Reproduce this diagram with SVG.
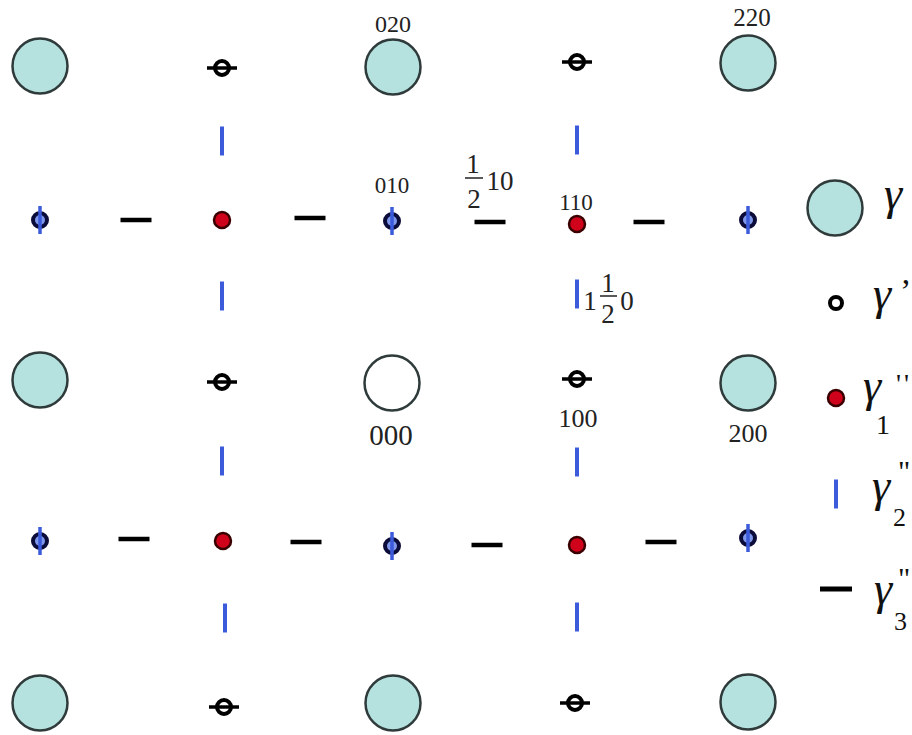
<svg xmlns="http://www.w3.org/2000/svg" xmlns:xlink="http://www.w3.org/1999/xlink" width="912" height="735" viewBox="0 0 912 735">
<style>
.lbl{font-family:"Liberation Serif","Times New Roman",serif;fill:#222;text-anchor:middle}
.gam{font-family:"Liberation Serif","Times New Roman",serif;font-style:italic;fill:#111}
.sub{font-family:"Liberation Serif","Times New Roman",serif;fill:#111}
</style>
<defs>
<g id="big"><circle r="27.5" fill="#b5e1df" stroke="#2f3a3a" stroke-width="2.5"/></g>
<g id="gp"><circle r="7" fill="none" stroke="#000" stroke-width="4"/><line x1="-15" y1="0" x2="15" y2="0" stroke="#000" stroke-width="3.5"/></g>
<g id="gpb"><circle r="7" fill="#7f98ea" stroke="#0c0c3a" stroke-width="4"/><line x1="0" y1="-14" x2="0" y2="14" stroke="#3b5bdb" stroke-width="3.5"/></g>
<g id="red"><circle r="8" fill="#d0021b" stroke="#3a0000" stroke-width="2.5"/></g>
<g id="vd"><line x1="0" y1="-14.5" x2="0" y2="14.5" stroke="#3b5bdb" stroke-width="4"/></g>
<g id="hd"><line x1="-15.5" y1="0" x2="15.5" y2="0" stroke="#000" stroke-width="4.5"/></g>
</defs>
<rect width="912" height="735" fill="#fff"/>
<g id="connectors"></g>
<g id="spots">
<g id="row1">
<use xlink:href="#big" x="40" y="66"/>
<use xlink:href="#gp" x="222" y="68"/>
<use xlink:href="#big" x="393" y="67"/>
<use xlink:href="#gp" x="577" y="62"/>
<use xlink:href="#big" x="748" y="63"/>
</g>
<g id="vrow1">
<use xlink:href="#vd" x="222" y="141"/>
<use xlink:href="#vd" x="577" y="140"/>
</g>
<g id="row2">
<use xlink:href="#gpb" x="40" y="220"/>
<use xlink:href="#hd" x="136" y="220"/>
<use xlink:href="#red" x="222" y="220"/>
<use xlink:href="#hd" x="310" y="218"/>
<use xlink:href="#gpb" x="392" y="221"/>
<use xlink:href="#hd" x="490" y="222"/>
<use xlink:href="#red" x="577" y="224"/>
<use xlink:href="#hd" x="649" y="222"/>
<use xlink:href="#gpb" x="748" y="220"/>
</g>
<g id="vrow2">
<use xlink:href="#vd" x="222" y="296"/>
<use xlink:href="#vd" x="577" y="294"/>
</g>
<g id="row3">
<use xlink:href="#big" x="40" y="380"/>
<use xlink:href="#gp" x="222" y="382"/>
<circle cx="392" cy="383" r="27.5" fill="#fff" stroke="#2f3a3a" stroke-width="2.5"/>
<use xlink:href="#gp" x="577" y="379"/>
<use xlink:href="#big" x="748" y="383"/>
</g>
<g id="vrow3">
<use xlink:href="#vd" x="222" y="461"/>
<use xlink:href="#vd" x="577" y="462"/>
</g>
<g id="row4">
<use xlink:href="#gpb" x="40" y="541"/>
<use xlink:href="#hd" x="134" y="539"/>
<use xlink:href="#red" x="223" y="541"/>
<use xlink:href="#hd" x="306" y="542"/>
<use xlink:href="#gpb" x="392" y="546"/>
<use xlink:href="#hd" x="487" y="545"/>
<use xlink:href="#red" x="577" y="545"/>
<use xlink:href="#hd" x="661" y="542"/>
<use xlink:href="#gpb" x="748" y="538"/>
</g>
<g id="vrow4">
<use xlink:href="#vd" x="225" y="618"/>
<use xlink:href="#vd" x="577" y="617"/>
</g>
<g id="row5">
<use xlink:href="#big" x="40" y="703"/>
<use xlink:href="#gp" x="224" y="707"/>
<use xlink:href="#big" x="393" y="703"/>
<use xlink:href="#gp" x="575" y="703"/>
<use xlink:href="#big" x="748" y="702"/>
</g>
</g>
<g id="labels">
<text class="lbl" x="393" y="32" font-size="24">020</text>
<text class="lbl" x="752" y="26" font-size="25">220</text>
<text class="lbl" x="392" y="193" font-size="23">010</text>
<text class="lbl" x="576" y="210" font-size="23">110</text>
<text class="lbl" x="391" y="445" font-size="29">000</text>
<text class="lbl" x="578" y="427" font-size="26">100</text>
<text class="lbl" x="748" y="442" font-size="26">200</text>
<g id="half10">
<text class="lbl" x="473" y="173" font-size="27">1</text>
<line x1="465" y1="178" x2="483" y2="178" stroke="#222" stroke-width="1.5"/>
<text class="lbl" x="474" y="208" font-size="27">2</text>
<text class="lbl" x="500" y="190" font-size="27">10</text>
</g>
<g id="one-half0">
<text class="lbl" x="590" y="310" font-size="27">1</text>
<text class="lbl" x="608" y="292" font-size="27">1</text>
<line x1="600" y1="296" x2="617" y2="296" stroke="#222" stroke-width="1.5"/>
<text class="lbl" x="608" y="323" font-size="27">2</text>
<text class="lbl" x="627" y="310" font-size="27">0</text>
</g>
</g>
<g id="legend">
<g id="leg-gamma">
<use xlink:href="#big" x="835" y="208"/>
<text class="gam" x="884" y="209" font-size="46">γ</text>
</g>
<g id="leg-gp">
<circle cx="836" cy="303" r="6" fill="none" stroke="#000" stroke-width="4"/>
<text class="gam" x="873" y="309" font-size="46">γ</text>
<text class="sub" x="900" y="302" font-size="34">’</text>
</g>
<g id="leg-g1">
<use xlink:href="#red" x="836" y="398"/>
<text class="gam" x="863" y="401" font-size="46">γ</text>
<text class="sub" x="876" y="434" font-size="28">1</text>
<text class="sub" x="896" y="393" font-size="28">'</text>
<text class="sub" x="904" y="393" font-size="28">'</text>
</g>
<g id="leg-g2">
<use xlink:href="#vd" x="836" y="494"/>
<text class="gam" x="872" y="501" font-size="46">γ</text>
<text class="sub" x="893" y="526" font-size="26">2</text>
<text class="sub" x="898" y="481" font-size="30">"</text>
</g>
<g id="leg-g3">
<line x1="820" y1="589" x2="852" y2="589" stroke="#000" stroke-width="5"/>
<text class="gam" x="874" y="604" font-size="46">γ</text>
<text class="sub" x="894" y="630" font-size="26">3</text>
<text class="sub" x="898" y="588" font-size="30">"</text>
</g>
</g>
</svg>
